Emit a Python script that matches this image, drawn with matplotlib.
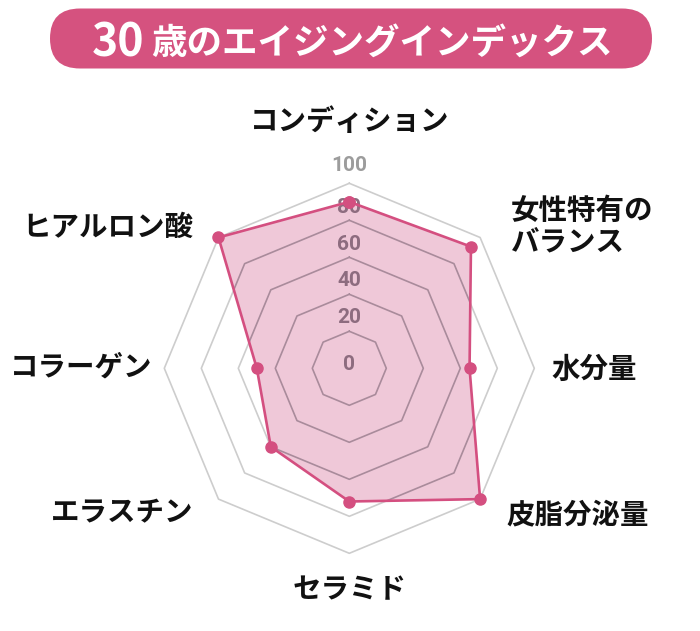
import numpy as np
import matplotlib
matplotlib.use("Agg")
import matplotlib.pyplot as plt
from matplotlib.patches import FancyBboxPatch

# Radar chart: aging index at 30, eight skin parameters on a 0-100 scale.

JP_FONT = ["Noto Sans CJK JP", "DejaVu Sans"]
NUM_FONT = ["Roboto", "DejaVu Sans"]

TITLE_NUM = "30"
TITLE_REST = "歳のエイジングインデックス"

CATEGORIES = ["コンディション", "女性特有の\nバランス", "水分量", "皮脂分泌量",
              "セラミド", "エラスチン", "コラーゲン", "ヒアルロン酸"]
VALUES = [90, 93, 65, 100, 72, 60, 50, 100]

GRID_LEVELS = [20, 40, 60, 80, 100]
TICK_VALUES = [0, 20, 40, 60, 80, 100]
TICK_LABELS = ["0", "20", "40", "60", "80", "100"]

# label layout: offset in pixels from the outer vertex, alignment
LABEL_OFFSETS = [(0, 61), (31, 11), (17, -2), (26, -16),
                 (0, -37), (-25, -14), (-12, 1), (-25, 10)]
LABEL_HA = ["center", "left", "left", "left", "center", "right", "right", "right"]
TICK_OFFSETS = [4, 14, 14, 13, 13, 18]

PINK = "#d44f80"
FILL = "#efc8d8"
GRID_OUT = "#cdcdcd"
GRID_IN = "#a98b9b"

W, H = 700, 631
fig = plt.figure(figsize=(W / 100, H / 100), dpi=100)

# pixel-space overlay for the title pill
bg = fig.add_axes([0, 0, 1, 1])
bg.set_xlim(0, W)
bg.set_ylim(H, 0)
bg.axis("off")
pill = FancyBboxPatch((50, 8.5), 602, 60, boxstyle="round,pad=0,rounding_size=30",
                      facecolor="#d5527f", edgecolor="none")
bg.add_patch(pill)
bg.text(92, 56.5, TITLE_NUM, color="white", fontsize=32, fontweight="bold",
        family=JP_FONT, ha="left", va="baseline")
bg.text(151, 54, TITLE_REST, color="white", fontsize=25.6, fontweight="bold",
        family=JP_FONT, ha="left", va="baseline")

# radar
cx, cy, R = 349.3, 368.3, 185
ax = fig.add_axes([(cx - R) / W, (H - cy - R) / H, 2 * R / W, 2 * R / H], projection="polar")
ax.set_theta_zero_location("N")
ax.set_theta_direction(-1)
ax.set_ylim(0, 100)
ax.axis("off")

n = len(CATEGORIES)
angles = np.linspace(0, 2 * np.pi, n, endpoint=False)
ang_closed = np.append(angles, angles[0])
vals_closed = np.append(VALUES, VALUES[0])

for lev in GRID_LEVELS:
    ax.plot(ang_closed, [lev] * (n + 1), color=GRID_OUT, lw=1.2, zorder=1, clip_on=False)

poly = ax.fill(ang_closed, vals_closed, facecolor=FILL, edgecolor="none", zorder=2, clip_on=False)[0]

for lev in GRID_LEVELS:
    ln, = ax.plot(ang_closed, [lev] * (n + 1), color=GRID_IN, lw=1.2, zorder=3)
    ln.set_clip_path(poly)

for v, lab, off in zip(TICK_VALUES, TICK_LABELS, TICK_OFFSETS):
    col = "#9c9c9c" if v == 100 else "#8d6c7f"
    ax.annotate(lab, xy=(0, v), xytext=(0, off), textcoords="offset pixels",
                ha="center", va="center", fontsize=15, fontweight="bold",
                family=NUM_FONT, color=col, zorder=4, annotation_clip=False)

ax.plot(ang_closed, vals_closed, color=PINK, lw=1.9, marker="o", markersize=8,
        zorder=5, clip_on=False)

for a, lab, off, ha in zip(angles, CATEGORIES, LABEL_OFFSETS, LABEL_HA):
    ax.annotate(lab, xy=(a, 100), xytext=off, textcoords="offset pixels",
                ha=ha, va="center", fontsize=20.5, fontweight="bold", family=JP_FONT,
                color="#111111", linespacing=1.15, annotation_clip=False)

fig.savefig("out.png", dpi=100)
